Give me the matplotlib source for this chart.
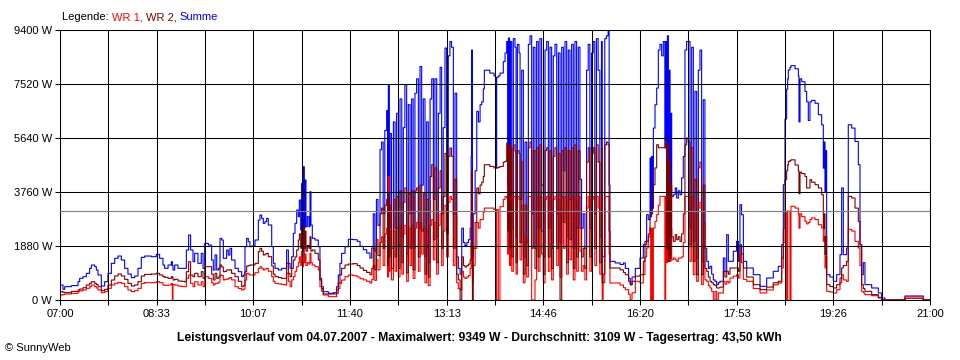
import matplotlib.pyplot as plt

plt.rcParams['font.family'] = ['Liberation Sans', 'DejaVu Sans']
plt.rcParams['font.size'] = 8

# time axis: minutes after 07:00, power values in W
minutes = [
    # 07:00 - 09:20
    0.6, 2.9, 4.5, 11, 17.4, 19, 22.2, 25.4, 28.6, 30.3, 33.5, 35.1, 36.7, 39.9, 43.1, 46.3,
    49.6, 52.8, 56, 59.2, 62.4, 65.6, 68.9, 72.1, 75.3, 78.5, 81.7, 88.2, 93, 96.2, 99.4, 101,
    104.3, 107.5, 108.5, 109.1, 110.7, 113.9, 117.1, 120.3, 122, 124.2, 126.1, 128.4, 130,
    133.2, 136.4, 138.1, 139.7,
    # 09:20 - 11:40
    143.2, 146.4, 148, 149.7, 151.3, 152.9, 154.5, 156.1, 157.7, 159.3, 160.9, 162.5, 164.1,
    165.7, 169, 172.2, 175.4, 177, 178.6, 180.2, 181.8, 183.4, 185, 188.3, 191.5, 193.1, 194.7,
    196.3, 197.9, 199.5, 201.1, 204.4, 206, 207.6, 210.8, 214, 217.2, 218.8, 220.5, 222.1,
    223.7, 225.3, 226.9, 228.5, 230.1, 231.1, 232.4, 233.3, 234.3, 234.9, 235.9, 236.5, 237.5,
    238.8, 240.4, 241.4, 242.3, 243.6, 246.2, 249.4, 251, 252.6, 254.2, 259.1, 263.9, 267.1,
    268.7, 270.3, 271.9, 275.2, 278.4,
    # 11:40 - 14:00
    283, 287, 289.7, 292.9, 296.1, 299.3, 301, 302.5, 304, 305.5, 307, 309, 310.5, 312, 313.6,
    315.4, 316.3, 317, 318, 318.6, 320, 321.9, 323.5, 325, 326.7, 328.3, 330, 331.5, 333, 334.7,
    336.3, 338, 339.5, 341, 342.7, 344.3, 346, 347.6, 349.2, 350.8, 352.4, 354, 355.6, 357.3,
    358.9, 360.5, 362, 363.7, 365.3, 367, 368.5, 370, 371.7, 373.3, 374.9, 376.5, 378, 379.8,
    381.4, 383, 384.6, 386.3, 387.9, 389.5, 391, 392.8, 394.4, 396, 397, 397.5, 398.2, 399,
    400.8, 402.4, 404, 405.6, 407.2, 408.7, 409.7, 415, 419,
    # 14:00 - 16:20
    420.5, 421, 421.6, 423.2, 424.8, 428, 429.7, 431.3, 432.3, 433, 434, 435, 436.2, 437.7,
    439.3, 440.3, 441.6, 443.2, 444.2, 445.8, 447.4, 449, 450.6, 452.2, 453.8, 455.4, 457,
    458.6, 460.2, 461.8, 463.4, 465, 466.7, 468.3, 469.9, 471.5, 473.1, 474.7, 476.3, 477.9,
    479.6, 481.2, 482.8, 484.4, 486, 487.6, 489.2, 490.8, 492.4, 494, 495.6, 497.2, 498.8,
    500.4, 502, 503.6, 505.2, 506.8, 508.4, 510, 511.6, 513.2, 514.8, 516.4, 518, 519.6, 521.2,
    522.8, 523.5, 524.4, 526, 527.6, 529.2, 530.2, 531, 536, 540.8, 544, 545.8, 549, 550.6,
    552.3, 555.5,
    # 16:20 - 18:40
    560, 563.2, 564.8, 566.4, 568, 569.7, 570.3, 571.2, 572, 572.9, 574.5, 576.1, 577.7, 579.3,
    580.9, 582.5, 584, 584.8, 585.7, 586.5, 587.4, 588.2, 589, 589.8, 590.6, 592.2, 594, 595.4,
    597, 598.6, 600.2, 601.8, 603.4, 605, 606.6, 608.3, 609.9, 611.5, 613.1, 614.7, 616.3,
    617.9, 619.5, 621.1, 622.7, 624.4, 626, 627.6, 629.2, 630.8, 632.4, 634, 635.6, 637.2,
    640.5, 642, 643.7, 645.3, 646.9, 650.1, 653.3, 655, 656.5, 658, 659.8, 663, 669.4, 675.9,
    682.3, 688.7, 693.5, 696.8, 698.4,
    # 18:40 - 21:00
    700, 701.6, 702.6, 703.2, 704.8, 705.8, 709.7, 712.9, 713.5, 714.5, 716.1, 719.3, 720.9,
    722.5, 724.1, 725.7, 729, 732.2, 735.4, 737, 738, 738.6, 739.3, 740.2, 743.4, 746.7, 749.9,
    753.1, 754.7, 756.3, 759.5, 761.1, 764.4, 767.6, 770.8, 772.4, 774, 775.6, 777.2, 783.7,
    790.1, 793.3, 796.5, 814.2, 815.8, 832, 833.5, 840,
]

summe = [
    522, 371, 464, 500, 638, 754, 812, 928, 1102, 1218, 1160, 1044, 870, 487, 638, 928,
    1276, 1450, 1531, 1392, 1102, 905, 777, 835, 1102, 1485, 1531, 1508, 1589, 1450, 1218, 1102,
    1218, 1334, 1200, 1044, 1218, 1102, 1102, 1102, 1740, 2262, 1740, 1334, 1624,
    1276, 1624, 1102, 1972,
    1914, 1392, 1044, 1566, 1044, 1102, 2146, 2088, 1450, 1450, 1740, 1566, 1798,
    1392, 1102, 986, 812, 870, 1856, 2146, 2030, 1856, 1879, 2088, 2784, 2958, 2842,
    2668, 2726, 2842, 2610, 1856, 1276, 1102, 1044, 1102, 1102, 1740, 1276, 1102,
    1508, 2320, 2668, 3132, 2900, 3480, 2436, 4060, 2436, 4640, 2494, 4176, 2552,
    2900, 2552, 3770, 2610, 2146, 2088, 1856, 754, 464, 290, 232, 255, 464,
    870, 1276, 1624, 1856, 2111,
    2100, 2042, 1868, 1752, 1636, 1462, 1810, 3000, 1700, 3500, 2600, 5232, 5500, 3000, 5900,
    6600, 2000, 7490, 2500, 5800, 1800, 6200, 2500, 6500, 1900, 7000, 2200, 6000, 7500, 1600,
    6800, 3000, 7000, 1800, 7200, 7700, 2500, 8130, 4000, 7000, 1500, 6200, 1300, 7000,
    7700, 3500, 7700, 2200, 6500, 8100, 3000, 6000, 8770, 3800, 8500, 9000, 8800, 3000,
    7200, 1500, 1100, 900, 2500, 2000, 1900, 2000, 2100, 2500, 5000, 8700, 1500, 3000,
    4500, 6568, 6200, 6800, 6900, 7350, 8000, 7900, 7800,
    7750, 4600, 7750, 7800, 7900, 8300, 8600, 9000, 4000, 9120, 3000, 9000, 2500, 9100,
    8800, 2200, 8900, 8600, 3500, 8000, 1500, 5500, 2000, 8900, 9200, 3000, 8800,
    1800, 9000, 2500, 9100, 4000, 1500, 8700, 9000, 2500, 8800, 1800, 8500, 8900,
    3000, 8600, 2000, 8800, 4500, 9000, 2200, 8700, 3500, 8900, 1800, 9000, 2500,
    8800, 4200, 2500, 3000, 1800, 8000, 8900, 2500, 8600, 9000, 3000, 9100, 8000, 2200,
    9000, 1500, 1500, 9100, 9200, 9349, 4000, 1345, 1290, 1235, 1290, 1100, 750, 533,
    800, 1100,
    1462, 1926, 2042, 2970, 2800, 4942, 3000, 5000, 3200, 5985, 6798, 7378, 8700, 8900,
    8500, 9000, 5300, 9000, 2500, 9200, 2042, 8000, 1926, 6500, 3600, 3666, 3900, 3550,
    3800, 3666, 4250, 5000, 8700, 9000, 9000, 2500, 8800, 2042, 7262, 1462, 8000,
    8700, 1346, 6972, 1800, 1346, 1100, 1172, 900, 700, 650, 534, 600, 650,
    1462, 1000, 2274, 1346, 1346, 1700, 2042, 1346, 3318, 2970, 1346, 1114, 882, 476,
    766, 998, 1172, 1926, 4014,
    6300, 7340, 7700, 8010, 8100, 8160, 8050, 7800, 6200, 7700, 7600, 7260, 6900,
    6250, 6900, 6950, 6850, 6450, 6100, 4590, 5500, 3760, 5200, 882, 800, 650, 882,
    1578, 3900, 1578, 1810, 6100, 5985, 5520, 4710, 1926, 882, 1300, 534, 418,
    244, 70, 0, 0, 140, 140, 0, 0,
]

wr1 = [
    174, 190, 209, 230, 290, 320, 348, 406, 464, 522, 464, 420, 348, 255, 290, 406,
    522, 580, 615, 580, 464, 348, 290, 325, 406, 580, 603, 603, 638, 603, 522, 510,
    522, 580, 0, 540, 522, 487, 470, 464, 754, 870, 580, 464, 638,
    522, 638, 464, 812,
    754, 600, 522, 580, 580, 620, 870, 850, 696, 720, 720, 754, 780,
    700, 464, 400, 348, 380, 696, 928, 900, 870, 870, 951, 1100, 1160, 1100,
    1044, 1080, 1102, 1000, 812, 650, 580, 560, 540, 522, 928, 650, 464,
    700, 812, 1000, 1160, 1300, 1500, 1200, 1700, 1150, 1856, 1300, 1600, 1200,
    1300, 1250, 1624, 1300, 1218, 1160, 1044, 464, 300, 174, 116, 116, 232,
    400, 580, 696, 812, 870,
    846, 800, 742, 700, 650, 592, 710, 1200, 680, 1400, 1050, 2000, 2200, 1200, 2300,
    2500, 800, 4300, 1000, 2400, 700, 2400, 1000, 2500, 800, 2600, 900, 2300, 2600, 650,
    2500, 1200, 2600, 750, 2500, 2700, 1000, 2700, 1600, 2500, 600, 2400, 500, 2600,
    2800, 1400, 2700, 900, 2600, 3000, 1200, 2400, 3300, 1500, 3400, 3600, 3500, 1200,
    3000, 600, 400, 350, 1000, 800, 750, 800, 850, 1100, 2000, 3600, 600, 1200,
    1800, 2700, 2500, 2800, 2800, 3050, 3200, 3200, 3150,
    3143, 0, 3150, 0, 3250, 3500, 3600, 3550, 1600, 3600, 1200, 3600, 1000, 3600,
    3550, 900, 3600, 3500, 1400, 3300, 600, 2200, 800, 3600, 3600, 0, 0,
    700, 3600, 1000, 3600, 1600, 600, 3500, 3600, 1000, 3600, 700, 3500, 3600,
    1200, 3500, 800, 3600, 1800, 3600, 900, 3500, 1400, 3600, 700, 3600, 1000,
    3600, 1700, 1000, 1200, 700, 3200, 3600, 1000, 3500, 3600, 1200, 3600, 3200, 900,
    3600, 0, 600, 3600, 3600, 3600, 1600, 592, 592, 520, 430, 360, 200, 0,
    250, 650,
    592, 882, 1500, 1810, 2200, 2506, 0, 2500, 0, 2506, 2740, 2970, 3300, 3608,
    3608, 3608, 0, 3608, 1300, 3600, 1346, 3200, 1346, 2500, 1400, 1462, 1400, 1346,
    1462, 1462, 1500, 2000, 3608, 3608, 3608, 1346, 3600, 882, 3000, 650, 3200,
    3400, 534, 2700, 700, 650, 500, 418, 300, 0, 300, 0, 250, 244,
    650, 550, 650, 600, 766, 830, 882, 766, 1578, 1300, 720, 650, 400, 244,
    350, 530, 592, 1114, 2000,
    3040, 0, 3100, 3090, 0, 3260, 3200, 3000, 2500, 3000, 2900, 2740, 2650,
    2700, 2800, 2860, 2800, 2620, 2506, 2042, 2200, 1114, 1500, 302, 280, 244, 360,
    600, 882, 700, 650, 2460, 2400, 2042, 1810, 1200, 302, 250, 186, 150,
    70, 0, 0, 0, 110, 110, 0, 0,
]

wr2 = [
    290, 270, 255, 300, 348, 380, 429, 522, 580, 638, 580, 540, 464, 325, 371, 522,
    696, 835, 905, 835, 719, 580, 487, 522, 638, 835, 893, 905, 928, 870, 812, 790,
    754, 812, 800, 696, 720, 661, 650, 638, 986, 1334, 870, 812, 928,
    812, 986, 754, 1160,
    1160, 900, 696, 928, 754, 800, 1218, 1150, 986, 1000, 1044, 1044, 1050,
    928, 812, 650, 464, 500, 986, 1183, 1200, 1218, 1218, 1276, 1682, 1798, 1700,
    1566, 1600, 1624, 1508, 1183, 900, 812, 780, 754, 754, 1276, 928, 812,
    1100, 1392, 1500, 1740, 2088, 2300, 1800, 2450, 1700, 2552, 1800, 2400, 1700,
    1900, 1800, 2204, 1700, 1740, 1624, 1392, 696, 400, 209, 209, 209, 348,
    600, 870, 1102, 1218, 1253,
    1264, 1200, 1114, 1030, 960, 882, 1100, 1800, 1050, 2100, 1550, 3000, 3200, 1800, 3300,
    3500, 1200, 3700, 1500, 3300, 1100, 3500, 1500, 3600, 1100, 3800, 1300, 3400, 3900, 950,
    3700, 1800, 3800, 1050, 3800, 3900, 1500, 4000, 2400, 3700, 900, 3500, 800, 4300,
    4710, 2100, 4600, 1300, 3900, 4500, 1800, 3600, 5100, 2300, 5000, 5290, 5000, 1800,
    4200, 900, 700, 0, 1500, 1200, 1150, 1200, 1250, 1400, 3000, 4500, 0, 1800,
    2700, 3900, 3700, 4000, 4100, 4300, 4710, 4650, 4600,
    4590, 4590, 4600, 4620, 4650, 4800, 4830, 5460, 2400, 5400, 1800, 5300, 1500, 5400,
    5180, 1300, 5200, 5100, 2000, 4800, 900, 3300, 1200, 5300, 5500, 1800, 5200,
    1100, 5300, 1500, 5400, 2400, 900, 5200, 5300, 1500, 5200, 1100, 5000, 5300,
    1800, 5100, 0, 5200, 2700, 5300, 1300, 5200, 2100, 5300, 1100, 5400, 1500,
    5200, 2500, 1500, 1800, 1100, 4800, 5300, 1500, 5100, 5300, 1800, 5400, 4800, 1300,
    5300, 600, 900, 5400, 5500, 5400, 2400, 1114, 1114, 1050, 960, 880, 650, 533,
    650, 830,
    882, 1346, 1926, 2042, 2300, 2970, 2900, 3000, 3200, 4014, 4600, 5406, 5300, 5300,
    5300, 5300, 5300, 5520, 1800, 5400, 1346, 4800, 1462, 4000, 2200, 2042, 2274, 2100,
    2200, 2042, 2300, 3000, 5400, 5640, 5500, 1926, 5300, 1346, 4200, 882, 4600,
    4800, 882, 4000, 1100, 998, 800, 650, 600, 534, 500, 418, 420, 450,
    998, 800, 1000, 900, 1114, 1114, 1114, 1000, 1926, 1600, 1114, 800, 534, 360,
    450, 600, 650, 1462, 2500,
    4188, 4500, 4700, 4826, 4850, 4880, 4700, 4500, 3700, 4450, 4400, 4300, 3900,
    3900, 4188, 4100, 4014, 3900, 3666, 2506, 3000, 1578, 2200, 534, 470, 418, 534,
    766, 1114, 1200, 1346, 3608, 3550, 3200, 2738, 1926, 534, 400, 302, 186,
    93, 0, 0, 0, 60, 60, 0, 0,
]

assert len(minutes) == len(summe) == len(wr1) == len(wr2)

y_ticks = [0, 1880, 3760, 5640, 7520, 9400]
x_labels = ['07:00', '08:33', '10:07', '11:40', '13:13', '14:46', '16:20', '17:53', '19:26', '21:00']
average = 3109
day_length = 840

title = ('Leistungsverlauf vom 04.07.2007 - Maximalwert: 9349 W - '
         'Durchschnitt: 3109 W - Tagesertrag: 43,50 kWh')

fig = plt.figure(figsize=(9.6, 3.6), dpi=100)
ax = fig.add_axes([60 / 960, 60 / 360, 870 / 960, 270 / 360])

# the logger draws pixel steps
line_style = dict(lw=0.8, drawstyle='steps-post', snap=False)
ax.plot(minutes, summe, color='#0000ff', **line_style)
ax.plot(minutes, wr1, color='#ff0000', **line_style)
ax.plot(minutes, wr2, color='#800000', **line_style)
ax.axhline(average, color='#808080', lw=0.8, zorder=3)

ax.set_xlim(0, day_length)
ax.set_ylim(0, 9400)
ax.set_xticks([i * day_length / 9 for i in range(10)])
ax.set_xticklabels(x_labels)
ax.set_xticks([i * day_length / 18 for i in range(1, 18, 2)], minor=True)
ax.set_yticks(y_ticks)
ax.set_yticklabels([f'{v} W' for v in y_ticks])

ax.grid(which='both', axis='x', color='black', lw=0.75)
ax.grid(which='major', axis='y', color='black', lw=0.75)
ax.set_axisbelow(False)
ax.tick_params(axis='both', which='both', direction='out', length=3.6, width=0.75,
               color='black', labelsize=8)
ax.tick_params(axis='x', pad=3)
ax.tick_params(axis='y', pad=2)
for s in ax.spines.values():
    s.set_linewidth(0.75)

# legend line at the top
t = fig.text(62 / 960, 1 - 17 / 360, 'Legende: ', va='center')
for label, col in [('WR 1, ', '#ff0000'), ('WR 2, ', '#800000'), ('Summe', '#0000ff')]:
    t = ax.annotate(label, xy=(1, 0), xycoords=t, va='bottom', color=col,
                    annotation_clip=False)

fig.text(0.4995, 1 - 338 / 360, title, ha='center', va='center', weight='bold', fontsize=8.7)
fig.text(5 / 960, 1 - 348 / 360, '© SunnyWeb', va='center')

fig.savefig('out.png', dpi=100)
